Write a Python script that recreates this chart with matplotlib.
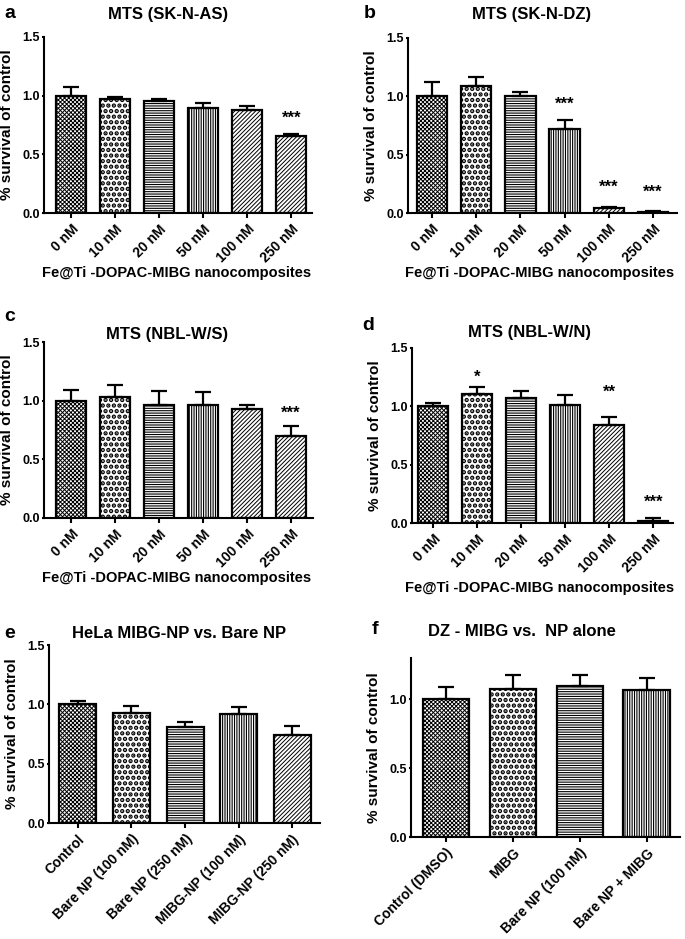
import numpy as np
import matplotlib
matplotlib.use("Agg")
import matplotlib.pyplot as plt

plt.rcParams['font.family'] = ['Liberation Sans', 'DejaVu Sans']
plt.rcParams['font.weight'] = 'bold'
plt.rcParams['axes.labelweight'] = 'bold'
plt.rcParams['hatch.linewidth'] = 0.8

# ---- data ----
conc_labels = ['0 nM', '10 nM', '20 nM', '50 nM', '100 nM', '250 nM']

a_mean = [1.0, 0.975, 0.955, 0.895, 0.88, 0.655]
a_err = [0.07, 0.01, 0.02, 0.045, 0.035, 0.015]
a_stars = {5: ('***', 0.81)}

b_mean = [1.0, 1.09, 1.005, 0.72, 0.04, 0.01]
b_err = [0.12, 0.075, 0.03, 0.075, 0.015, 0.01]
b_stars = {3: ('***', 0.93), 4: ('***', 0.22), 5: ('***', 0.18)}

c_mean = [1.0, 1.03, 0.96, 0.96, 0.925, 0.70]
c_err = [0.09, 0.10, 0.12, 0.11, 0.04, 0.08]
c_stars = {5: ('***', 0.895)}

d_mean = [1.0, 1.105, 1.075, 1.01, 0.84, 0.02]
d_err = [0.03, 0.065, 0.055, 0.09, 0.065, 0.02]
d_stars = {1: ('*', 1.25), 4: ('**', 1.12), 5: ('***', 0.18)}

e_labels = ['Control', 'Bare NP (100 nM)', 'Bare NP (250 nM)',
            'MIBG-NP (100 nM)', 'MIBG-NP (250 nM)']
e_mean = [1.0, 0.93, 0.81, 0.915, 0.745]
e_err = [0.03, 0.06, 0.04, 0.065, 0.07]

f_labels = ['Control (DMSO)', 'MIBG', 'Bare NP (100 nM)', 'Bare NP + MIBG']
f_mean = [1.0, 1.075, 1.095, 1.065]
f_err = [0.09, 0.105, 0.085, 0.09]

hatches = ['xxxxxxxx', '...', '-------', '|||||||', '////////', '////////']
hatch_lw = [0.7, 2.2, 0.8, 0.8, 0.7, 0.7]
xlab = 'Fe@Ti -DOPAC-MIBG nanocomposites'

W, H = 685, 939
fig = plt.figure(figsize=(W / 100, H / 100), dpi=100)


def px_axes(l, t, r, b):
    return fig.add_axes([l / W, 1 - b / H, (r - l) / W, (b - t) / H])


def ftext(x, y, s, **kw):
    fig.text(x / W, 1 - y / H, s, **kw)


def panel(ax, mean, err, labels, xlim, ylim=1.5, yticks=(0, 0.5, 1.0, 1.5), stars=None):
    x = np.arange(len(mean))
    bars = ax.bar(x, mean, width=0.69, color='white', edgecolor='black',
                  linewidth=1.6, zorder=2)
    for b, h, lw in zip(bars, hatches, hatch_lw):
        b.set_hatch(h)
        try:
            b.set_hatch_linewidth(lw)
        except AttributeError:
            pass
    ax.errorbar(x, mean, yerr=[np.zeros(len(err)), err], fmt='none',
                ecolor='black', elinewidth=1.6, capsize=6, capthick=1.6, zorder=3)
    if stars:
        for i, (s, y) in stars.items():
            ax.text(i, y, s, ha='center', va='center', fontsize=12)
    ax.set_xlim(*xlim)
    ax.set_ylim(0, ylim)
    ax.set_yticks(yticks)
    ax.set_yticklabels(['%.1f' % v for v in yticks], fontsize=9)
    ax.set_xticks(x)
    ax.set_xticklabels(labels, rotation=45, ha='right', rotation_mode='anchor',
                       fontsize=10)
    for side in ['top', 'right']:
        ax.spines[side].set_visible(False)
    for side in ['left', 'bottom']:
        ax.spines[side].set_linewidth(1.5)
    ax.tick_params(axis='y', width=1.5, length=1.5, pad=1.5, direction='out')
    ax.tick_params(axis='x', width=1.5, length=3.5, pad=3, direction='out')
    ax.set_ylabel('% survival of control', fontsize=11, fontweight='bold', labelpad=6)


ax = px_axes(44, 37, 312, 213)
panel(ax, a_mean, a_err, conc_labels, (-0.62, 5.47), stars=a_stars)
ftext(168, 14, 'MTS (SK-N-AS)', ha='center', va='center', fontsize=12)
ftext(177, 273, xlab, ha='center', va='center', fontsize=10.5)
ftext(4, 13, 'a', ha='left', va='center', fontsize=14)

ax = px_axes(408, 38, 677, 213)
panel(ax, b_mean, b_err, conc_labels, (-0.54, 5.54), stars=b_stars)
ftext(532, 14, 'MTS (SK-N-DZ)', ha='center', va='center', fontsize=12)
ftext(540, 273, xlab, ha='center', va='center', fontsize=10.5)
ftext(364, 13, 'b', ha='left', va='center', fontsize=14)

ax = px_axes(44, 342, 313, 518)
panel(ax, c_mean, c_err, conc_labels, (-0.62, 5.5), stars=c_stars)
ftext(167, 335, 'MTS (NBL-W/S)', ha='center', va='center', fontsize=12)
ftext(177, 578, xlab, ha='center', va='center', fontsize=10.5)
ftext(4, 316, 'c', ha='left', va='center', fontsize=14)

ax = px_axes(412, 348, 673, 523)
panel(ax, d_mean, d_err, conc_labels, (-0.48, 5.45), stars=d_stars)
ftext(530, 332, 'MTS (NBL-W/N)', ha='center', va='center', fontsize=12)
ftext(540, 588, xlab, ha='center', va='center', fontsize=10.5)
ftext(362, 325, 'd', ha='left', va='center', fontsize=14)

ax = px_axes(49, 645, 320, 823)
panel(ax, e_mean, e_err, e_labels, (-0.54, 4.52))
ftext(179, 633, 'HeLa MIBG-NP vs. Bare NP', ha='center', va='center', fontsize=12)
ftext(4, 633, 'e', ha='left', va='center', fontsize=14)

ax = px_axes(411, 658, 680, 837)
panel(ax, f_mean, f_err, f_labels, (-0.52, 3.5), ylim=1.3, yticks=(0, 0.5, 1.0))
ftext(522, 632, 'DZ - MIBG vs.  NP alone', ha='center', va='center', fontsize=12)
ftext(372, 630, 'f', ha='left', va='center', fontsize=14)

fig.savefig('out.png', dpi=100)
